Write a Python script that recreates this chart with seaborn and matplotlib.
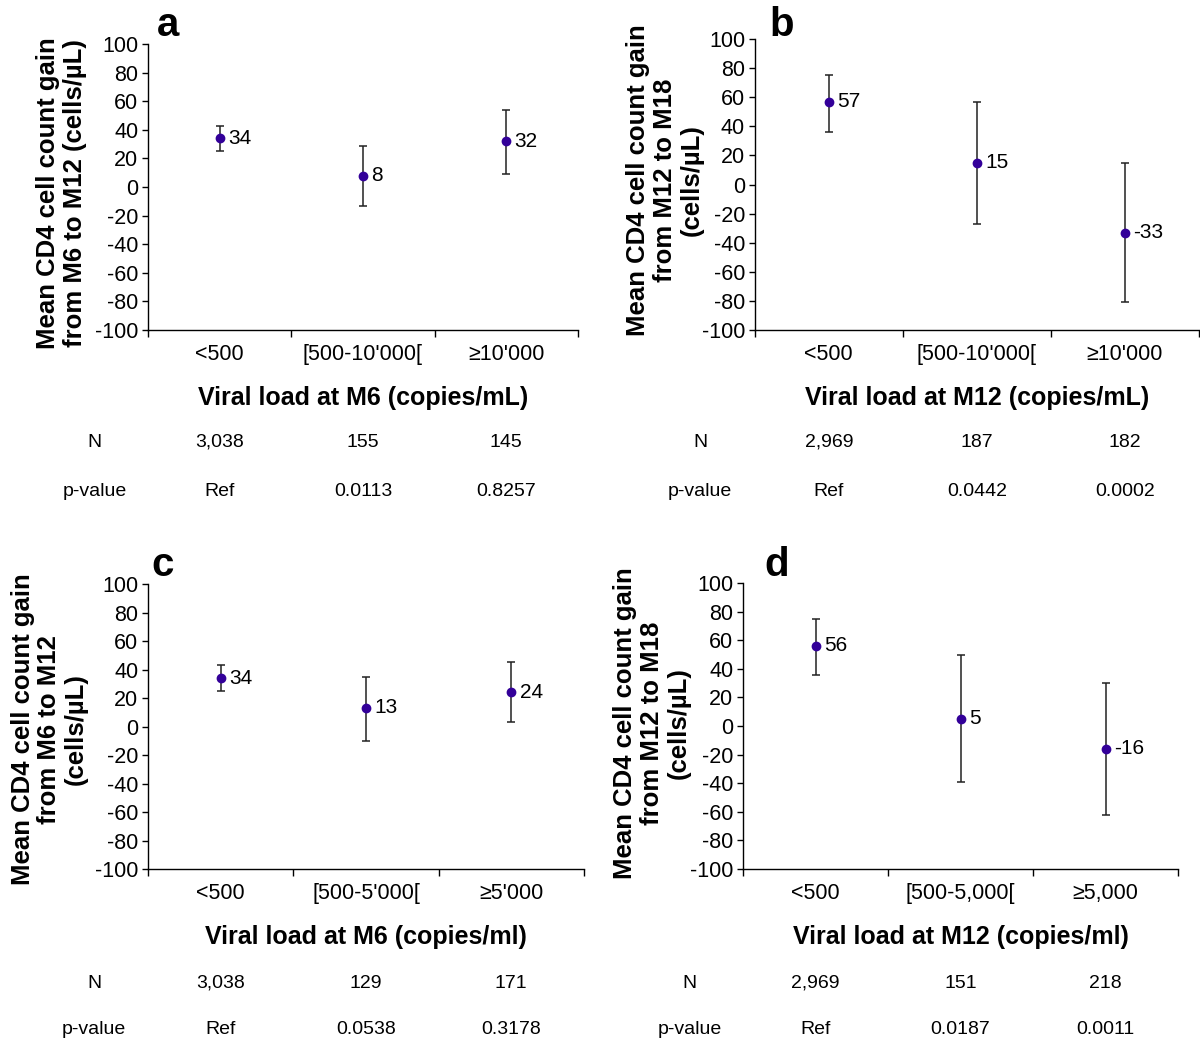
import matplotlib
matplotlib.use('Agg')
import matplotlib.pyplot as plt
import matplotlib.transforms as mtransforms
import seaborn as sns
import pandas as pd

sns.set_style('white')
plt.rcParams['font.family'] = ['Liberation Sans', 'DejaVu Sans']
plt.rcParams['axes.unicode_minus'] = False
for key in ['text.color', 'axes.labelcolor', 'xtick.color', 'ytick.color']:
    plt.rcParams[key] = 'black'

# categories of viral load
cats_a = ['<500', "[500-10'000[", "\u226510'000"]
cats_b = ['<500', "[500-10'000[", "\u226510'000"]
cats_c = ['<500', "[500-5'000[", "\u22655'000"]
cats_d = ['<500', '[500-5,000[', '\u22655,000']

# mean CD4 gain and 95% CI bounds
mean_a = [34, 8, 32]
low_a = [25, -13, 9]
high_a = [43, 29, 54]

mean_b = [57, 15, -33]
low_b = [36, -27, -81]
high_b = [75, 57, 15]

mean_c = [34, 13, 24]
low_c = [25, -10, 3]
high_c = [43, 35, 45]

mean_d = [56, 5, -16]
low_d = [36, -39, -62]
high_d = [75, 50, 30]

# table under each panel
n_a = ['3,038', '155', '145']
p_a = ['Ref', '0.0113', '0.8257']
n_b = ['2,969', '187', '182']
p_b = ['Ref', '0.0442', '0.0002']
n_c = ['3,038', '129', '171']
p_c = ['Ref', '0.0538', '0.3178']
n_d = ['2,969', '151', '218']
p_d = ['Ref', '0.0187', '0.0011']

ylab_a = 'Mean CD4 cell count gain\nfrom M6 to M12 (cells/\u00b5L)'
ylab_b = 'Mean CD4 cell count gain\nfrom M12 to M18\n(cells/\u00b5L)'
ylab_c = 'Mean CD4 cell count gain\nfrom M6 to M12\n(cells/\u00b5L)'
ylab_d = 'Mean CD4 cell count gain\nfrom M12 to M18\n(cells/\u00b5L)'

xlab_a = 'Viral load at M6 (copies/mL)'
xlab_b = 'Viral load at M12 (copies/mL)'
xlab_c = 'Viral load at M6 (copies/ml)'
xlab_d = 'Viral load at M12 (copies/ml)'

H = 1041.0
panels = [
    # letter, cats, mean, low, high, N, p, ylabel, xlabel, axes rect, ylabel (x, y), table y (N, p), letter (x, y)
    ('a', cats_a, mean_a, low_a, high_a, n_a, p_a, ylab_a, xlab_a, [0.1233, 0.683, 0.3583, 0.2747],
     (-0.142, 0.48), (0.5754, 0.5274), (157 / 1200, 1 - 36 / H)),
    ('b', cats_b, mean_b, low_b, high_b, n_b, p_b, ylab_b, xlab_b, [0.629, 0.683, 0.370, 0.2795],
     (-0.115, 0.515), (0.5754, 0.5274), (769 / 1200, 1 - 36 / H)),
    ('c', cats_c, mean_c, low_c, high_c, n_c, p_c, ylab_c, xlab_c, [0.1233, 0.1652, 0.3633, 0.2738],
     (-0.137, 0.49), (0.0557, 0.0106), (151 / 1200, 1 - 576 / H)),
    ('d', cats_d, mean_d, low_d, high_d, n_d, p_d, ylab_d, xlab_d, [0.6192, 0.1652, 0.3625, 0.2747],
     (-0.12, 0.51), (0.0557, 0.0106), (764 / 1200, 1 - 576 / H)),
]

fig = plt.figure(figsize=(12, 10.41), dpi=100)
dot_color = '#330099'

for letter, cats, mean, low, high, nvals, pvals, ylab, xlab, rect, ylpos, tab_y, letpos in panels:
    ax = fig.add_axes(rect)
    df = pd.DataFrame({'cat': cats, 'mean': mean, 'low': low, 'high': high})
    pos = list(range(len(cats)))

    # error bars from CI bounds
    yerr = [[m - l for m, l in zip(mean, low)], [h - m for m, h in zip(mean, high)]]
    ax.errorbar(pos, df['mean'], yerr=yerr, fmt='none', ecolor='#222222',
                elinewidth=1.1, capsize=3, capthick=1.1, zorder=2)
    sns.pointplot(data=df, x='cat', y='mean', linestyle='none', errorbar=None,
                  color=dot_color, markersize=5, ax=ax, zorder=3)

    for x, m in zip(pos, mean):
        ax.annotate(str(m), (x, m), xytext=(6, 0), textcoords='offset points',
                    va='center', ha='left', fontsize=15)

    ax.set_xlim(-0.5, len(cats) - 0.5)
    ax.set_ylim(-100, 100)
    ax.set_yticks(range(-100, 101, 20))
    ax.set_xticks([-0.5, 0.5, 1.5, 2.5], labels=['', '', '', ''])
    ax.set_xticks(pos, labels=cats, minor=True)
    ax.tick_params(axis='x', which='major', direction='out', length=5, width=1, color='black', bottom=True)
    ax.tick_params(axis='x', which='minor', length=0, labelsize=15.5, pad=10)
    ax.tick_params(axis='y', direction='out', length=4, width=1, color='black', left=True, labelsize=15.5, pad=3)
    for s in ['top', 'right']:
        ax.spines[s].set_visible(False)
    for s in ['left', 'bottom']:
        ax.spines[s].set_color('black')
        ax.spines[s].set_linewidth(1)

    ax.set_xlabel(xlab, fontsize=18, fontweight='bold', labelpad=15)
    ax.set_ylabel(ylab, fontsize=18.5, fontweight='bold', linespacing=1.15)
    ax.yaxis.set_label_coords(*ylpos)

    fig.text(letpos[0], letpos[1], letter, fontsize=29, fontweight='bold',
             va='baseline', ha='left')

    # N and p-value rows
    trans = mtransforms.blended_transform_factory(ax.transData, fig.transFigure)
    ax.text(-0.87, tab_y[0], 'N', transform=trans, ha='center', va='center', fontsize=14)
    ax.text(-0.87, tab_y[1], 'p-value', transform=trans, ha='center', va='center', fontsize=14)
    for x, nv, pv in zip(pos, nvals, pvals):
        ax.text(x, tab_y[0], nv, transform=trans, ha='center', va='center', fontsize=14)
        ax.text(x, tab_y[1], pv, transform=trans, ha='center', va='center', fontsize=14)

fig.savefig('out.png', dpi=100, facecolor='white')
